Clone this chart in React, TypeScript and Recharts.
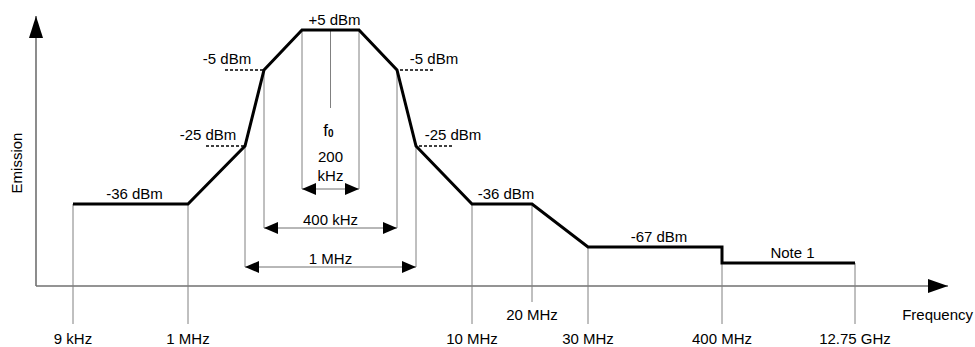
import React from 'react';
import { ComposedChart, Line, XAxis, YAxis, ReferenceLine, ReferenceDot } from 'recharts';

// schematic spectrum mask (x: schematic frequency position, y: schematic level above the axis)
const maskX = [37, 152, 209, 228, 266, 323, 361, 380, 436, 496, 552, 686, 686, 819];
const maskY = [82, 82, 140, 216, 256, 256, 216, 140, 82, 82, 39, 39, 23, 23];

// frequency ticks under the axis
const tickLabels = ['9 kHz', '1 MHz', '10 MHz', '20 MHz', '30 MHz', '400 MHz', '12.75 GHz'];
const tickIndex = [0, 1, 8, 9, 10, 11, 13];

// flat-segment level labels (start index of the segment)
const flatLabels = ['-36 dBm', '+5 dBm', '-36 dBm', '-67 dBm', 'Note 1'];
const flatIndex = [0, 4, 8, 10, 12];

// slope breakpoint labels (index, side)
const slopeLabels = ['-25 dBm', '-5 dBm', '-5 dBm', '-25 dBm'];
const slopeIndex = [2, 3, 6, 7];
const slopeSide = [-1, -1, 1, 1];

// bandwidth arrows (left index, right index, label lines)
const bwLabels = [['200', 'kHz'], ['400 kHz'], ['1 MHz']];
const bwLeft = [4, 3, 2];
const bwRight = [5, 6, 7];
const bwLevel = [97, 58, 19];

const XMAX = 912;
const YMAX = 270;
const FONT = 'Liberation Sans, Arial, sans-serif';
const GRAY = '#707070';
const THIN = '#808080';

const data = maskX.map((x, i) => ({ x, y: maskY[i] }));
const f0 = (maskX[4] + maskX[5]) / 2;

const ArrowLine = (p: any) => {
  const { x1, y1, x2, y2 } = p;
  const horiz = Math.abs(y2 - y1) < Math.abs(x2 - x1);
  const head = horiz
    ? `${x2},${y2} ${x2 - 20},${y2 - 7} ${x2 - 20},${y2 + 7}`
    : `${x2},${y2} ${x2 - 7},${y2 + 22} ${x2 + 7},${y2 + 22}`;
  return (
    <g>
      <line x1={x1} y1={y1} x2={x2} y2={y2} stroke={GRAY} strokeWidth={1.6} />
      <polygon points={head} fill="#000" />
    </g>
  );
};

const DoubleArrow = (p: any) => {
  const { x1, y1, x2, y2 } = p;
  const a = Math.min(x1, x2);
  const b = Math.max(x1, x2);
  return (
    <g>
      <line x1={a} y1={y1} x2={b} y2={y2} stroke={GRAY} strokeWidth={1} />
      <polygon points={`${a},${y1} ${a + 14},${y1 - 6} ${a + 14},${y1 + 6}`} fill="#000" />
      <polygon points={`${b},${y2} ${b - 14},${y2 - 6} ${b - 14},${y2 + 6}`} fill="#000" />
    </g>
  );
};

const txt = (lines: string[], anchor = 'middle', rotate = false) => (p: any) => (
  <text
    x={p.cx}
    y={p.cy}
    textAnchor={anchor}
    fontFamily={FONT}
    fontSize={15}
    fill="#000"
    transform={rotate ? `rotate(-90 ${p.cx} ${p.cy})` : undefined}
  >
    {lines.map((l, k) => (
      <tspan key={k} x={p.cx} dy={k === 0 ? 5 : 19}>{l}</tspan>
    ))}
  </text>
);

export default function App() {
  return (
    <div style={{ position: 'absolute', left: 0, top: 0, background: '#fff' }}>
      <ComposedChart width={975} height={347} data={data} margin={{ top: 0, right: 0, bottom: 0, left: 0 }}>
        <XAxis type="number" dataKey="x" domain={[-36, 939]} hide allowDataOverflow />
        <YAxis type="number" domain={[-61, 286]} hide allowDataOverflow />

        {/* axes */}
        <ReferenceLine segment={[{ x: 0, y: 0 }, { x: XMAX, y: 0 }]} shape={ArrowLine} ifOverflow="visible" />
        <ReferenceLine segment={[{ x: 0, y: 0 }, { x: 0, y: YMAX }]} shape={ArrowLine} ifOverflow="visible" />

        {/* tick drop lines */}
        {tickIndex.map((idx, i) => (
          <ReferenceLine
            key={'t' + i}
            segment={[{ x: maskX[idx], y: maskY[idx] }, { x: maskX[idx], y: tickLabels[i] === '20 MHz' ? -16 : -38 }]}
            stroke={THIN}
            strokeWidth={1}
            ifOverflow="visible"
          />
        ))}
        {tickIndex.map((idx, i) => (
          <ReferenceDot
            key={'tl' + i}
            x={maskX[idx]}
            y={tickLabels[i] === '20 MHz' ? -29 : -53}
            ifOverflow="visible"
            shape={txt([tickLabels[i]])}
          />
        ))}

        {/* bandwidth verticals and arrows */}
        {bwLeft.map((l, i) => (
          <ReferenceLine key={'bl' + i} segment={[{ x: maskX[l], y: maskY[l] }, { x: maskX[l], y: bwLevel[i] }]} stroke={THIN} strokeWidth={1} ifOverflow="visible" />
        ))}
        {bwRight.map((r, i) => (
          <ReferenceLine key={'br' + i} segment={[{ x: maskX[r], y: maskY[r] }, { x: maskX[r], y: bwLevel[i] }]} stroke={THIN} strokeWidth={1} ifOverflow="visible" />
        ))}
        {bwLeft.map((l, i) => (
          <ReferenceLine key={'ba' + i} segment={[{ x: maskX[l], y: bwLevel[i] }, { x: maskX[bwRight[i]], y: bwLevel[i] }]} shape={DoubleArrow} ifOverflow="visible" />
        ))}
        {bwLeft.map((l, i) => (
          <ReferenceDot
            key={'bt' + i}
            x={(maskX[l] + maskX[bwRight[i]]) / 2}
            y={bwLevel[i] + (bwLabels[i].length > 1 ? 32 : 8)}
            ifOverflow="visible"
            shape={txt(bwLabels[i])}
          />
        ))}

        {/* centre frequency */}
        <ReferenceLine segment={[{ x: f0, y: maskY[4] }, { x: f0, y: 178 }]} stroke={THIN} strokeWidth={1} ifOverflow="visible" />
        <ReferenceDot
          x={f0}
          y={156}
          ifOverflow="visible"
          shape={(p: any) => (
            <text x={p.cx - 2} y={p.cy + 6} textAnchor="middle" fontFamily={FONT} fontSize={17} fill="#000">
              f<tspan fontSize={10} fontWeight="bold" dy={1}>0</tspan>
            </text>
          )}
        />

        {/* dashed level markers */}
        {slopeIndex.map((idx, i) => (
          <ReferenceLine
            key={'d' + i}
            segment={[
              { x: maskX[idx] + (slopeSide[i] < 0 ? -39 : 3), y: maskY[idx] },
              { x: maskX[idx] + (slopeSide[i] < 0 ? -1 : 37), y: maskY[idx] },
            ]}
            stroke="#000"
            strokeWidth={1.5}
            strokeDasharray="3 2"
            ifOverflow="visible"
          />
        ))}
        {slopeIndex.map((idx, i) => (
          <ReferenceDot
            key={'dl' + i}
            x={maskX[idx] + slopeSide[i] * 37}
            y={maskY[idx] + 11}
            ifOverflow="visible"
            shape={txt([slopeLabels[i]])}
          />
        ))}
        {flatIndex.map((idx, i) => (
          <ReferenceDot
            key={'fl' + i}
            x={(maskX[idx] + maskX[idx + 1]) / 2 + 4}
            y={maskY[idx] + 10}
            ifOverflow="visible"
            shape={txt([flatLabels[i]])}
          />
        ))}

        {/* axis titles */}
        <ReferenceDot x={937} y={-29} ifOverflow="visible" shape={txt(['Frequency'], 'end')} />
        <ReferenceDot x={-19} y={123} ifOverflow="visible" shape={txt(['Emission'], 'middle', true)} />

        <Line
          type="linear"
          dataKey="y"
          stroke="#000"
          strokeWidth={3}
          dot={false}
          activeDot={false}
          legendType="none"
          isAnimationActive={false}
          strokeLinejoin="miter"
        />
      </ComposedChart>
    </div>
  );
}
